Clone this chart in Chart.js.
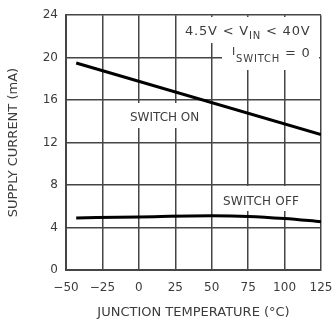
<!DOCTYPE html>
<html>
<head>
<meta charset="utf-8">
<script src="https://cdn.jsdelivr.net/npm/chart.js@4"></script>
<style>
  html, body { margin: 0; padding: 0; background: #fff; }
  #wrap { width: 332px; height: 324px; }
</style>
</head>
<body>
<div id="wrap"><canvas id="chart" width="332" height="324"></canvas></div>
<script>
// supply current vs. junction temperature
const xTicks = [-50, -25, 0, 25, 50, 75, 100, 125];
const yTicks = [0, 4, 8, 12, 16, 20, 24];

const onTemps = [-43, 125];
const onCurrent = [19.5, 12.75];

const offTemps = [-43, 0, 50, 75, 100, 125];
const offCurrent = [4.9, 5.0, 5.1, 5.05, 4.85, 4.55];

const FONT = 'DejaVu Sans';
const TEXT = '#3c3c3c';
const GRID = '#454545';

function pts(xs, ys) {
  return xs.map((x, i) => ({ x: x, y: ys[i] }));
}

// labels sitting on the grid, with a white patch behind them
// parts: [text, size, baseline shift]
const notes = [
  { x: 185, y: 35, sp: 0.8, parts: [['4.5V < V', 13, 0], ['IN', 10, 4], [' < 40V', 13, 0]], box: [182, 17, 319, 43] },
  { x: 232, y: 55, sp: 0.8, parts: [['I', 11, 0], ['SWITCH', 10, 7], [' = 0', 13, 2]], box: [222, 43, 319, 70] },
  { x: 130, y: 121, sp: 0, parts: [['SWITCH ON', 12, 0]], box: [125, 103, 206, 128] },
  { x: 223, y: 205, sp: 0.2, parts: [['SWITCH OFF', 12, 0]], box: [219, 186, 305, 211] }
];

const notesPlugin = {
  id: 'notes',
  beforeDatasetsDraw(chart) {
    const ctx = chart.ctx;
    ctx.save();
    notes.forEach(n => {
      const b = n.box;
      ctx.fillStyle = '#fff';
      ctx.fillRect(b[0], b[1], b[2] - b[0], b[3] - b[1]);
      let px = n.x;
      ctx.fillStyle = TEXT;
      ctx.textBaseline = 'alphabetic';
      ctx.letterSpacing = n.sp + 'px';
      n.parts.forEach(([s, size, dy]) => {
        ctx.font = size + 'px ' + FONT;
        ctx.fillText(s, px, n.y + dy);
        px += ctx.measureText(s).width;
      });
    });
    ctx.restore();
  }
};

new Chart(document.getElementById('chart'), {
  type: 'line',
  data: {
    datasets: [
      {
        label: 'SWITCH ON',
        data: pts(onTemps, onCurrent),
        borderColor: '#000',
        borderWidth: 3,
        pointRadius: 0
      },
      {
        label: 'SWITCH OFF',
        data: pts(offTemps, offCurrent),
        borderColor: '#000',
        borderWidth: 3,
        pointRadius: 0,
        cubicInterpolationMode: 'monotone'
      }
    ]
  },
  options: {
    responsive: false,
    animation: false,
    layout: { padding: { top: 15, right: 11, left: 0, bottom: 0 } },
    plugins: { legend: { display: false }, tooltip: { enabled: false } },
    scales: {
      x: {
        type: 'linear',
        min: -50,
        max: 125,
        afterBuildTicks(s) { s.ticks = xTicks.map(v => ({ value: v })); },
        afterFit(s) {
          s.height = 54;
          s.paddingLeft = 0;
          s.paddingRight = 0;
        },
        grid: { color: GRID, lineWidth: 1.5, drawTicks: false },
        border: { color: GRID, width: 2 },
        ticks: {
          color: TEXT,
          padding: 11,
          font: { family: FONT, size: 12 },
          maxRotation: 0,
          autoSkip: false,
          callback: v => String(v).replace('-', '\u2212')
        },
        title: {
          display: true,
          text: 'JUNCTION TEMPERATURE (\u00b0C)',
          color: TEXT,
          font: { family: FONT, size: 13 },
          padding: { top: 8 }
        }
      },
      y: {
        min: 0,
        max: 24,
        afterBuildTicks(s) { s.ticks = yTicks.map(v => ({ value: v })); },
        afterFit(s) { s.width = 66; },
        grid: { color: GRID, lineWidth: 1.5, drawTicks: false },
        border: { color: GRID, width: 2 },
        ticks: {
          color: TEXT,
          padding: 8,
          font: { family: FONT, size: 12 }
        },
        title: {
          display: true,
          text: 'SUPPLY CURRENT (mA)',
          color: TEXT,
          font: { family: FONT, size: 13 },
          padding: { bottom: 0, top: 6 }
        }
      }
    }
  },
  plugins: [notesPlugin]
});
</script>
</body>
</html>
